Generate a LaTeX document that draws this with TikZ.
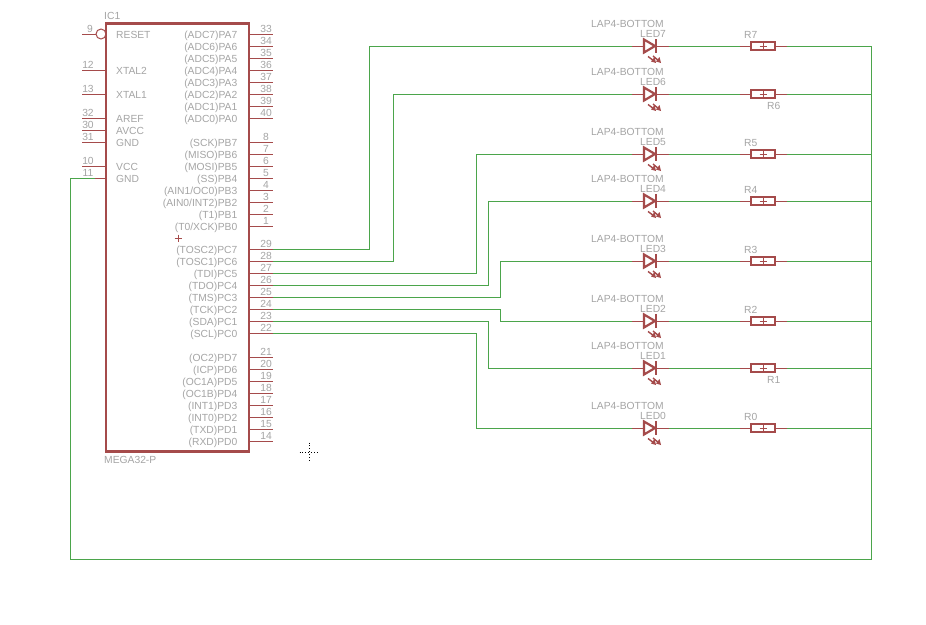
\documentclass[tikz,border=0pt]{standalone}
\usepackage{fontspec}
\setmainfont{Liberation Sans}
\definecolor{sym}{RGB}{165, 75, 75}
\definecolor{net}{RGB}{75, 165, 75}
\definecolor{lbl}{RGB}{165, 165, 165}
\tikzset{
  wire/.style={color=net, line width=0.9pt},
  pinline/.style={color=sym, line width=0.9pt},
  body/.style={color=sym, line width=2.2pt},
  txt/.style={color=lbl, inner sep=0pt, font=\fontsize{10.3}{11}\selectfont},
  pinname/.style={txt, anchor=base east},
  pinlabel/.style={txt, anchor=base west},
  pinnum/.style={txt, anchor=base},
  freetxt/.style={txt, anchor=base west},
}
% right hand pin: y, number, text
\newcommand{\rpin}[3]{
  \coordinate (p#2) at (273, #1);
  \draw[pinline] (249, #1) -- (p#2);
  \node[pinnum] (n#2) at (266, #1-1.3) {#2};
  \node[pinname] (t#2) at (237.5, #1+4) {#3};
}
% left hand pin: y, number, text
\newcommand{\lpin}[3]{
  \coordinate (p#2) at (82, #1);
  \draw[pinline] (p#2) -- (105, #1);
  \node[pinnum] (n#2) at (88, #1-1.3) {#2};
  \node[pinlabel] (t#2) at (116, #1+4) {#3};
}
% led: index, y
\newcommand{\ledpart}[2]{
  \coordinate (led#1a) at (632, #2);
  \coordinate (led#1b) at (669, #2);
  \draw[pinline] (led#1a) -- (led#1b);
  \draw[body, fill=white, line join=miter] (644, #2-6.5) -- (655, #2) -- (644, #2+6.5) -- cycle;
  \draw[body] (656, #2-7) -- (656, #2+7);
  \draw[color=sym, line width=1.4pt] (648, #2+10.5) -- (654, #2+15);
  \draw[color=sym, line width=1.4pt] (653, #2+10) -- (659, #2+15);
  \fill[sym] (656, #2+17) -- (651, #2+15.5) -- (654.5, #2+11) -- cycle;
  \fill[sym] (661, #2+17) -- (656, #2+15.5) -- (659.5, #2+11) -- cycle;
  \node[freetxt] (lap#1) at (591, #2-18.3) {LAP4-BOTTOM};
  \node[freetxt] (led#1) at (640, #2-8.3) {LED#1};
}
% resistor: index, y, label x, label y offset
\newcommand{\respart}[4]{
  \coordinate (r#1a) at (740, #2);
  \coordinate (r#1b) at (787, #2);
  \coordinate (rail#1) at (871, #2);
  \draw[pinline] (r#1a) -- (r#1b);
  \draw[body, fill=white] (751, #2-4) rectangle (775, #2+4);
  \draw[color=sym, line width=0.9pt] (759.5, #2) -- (767, #2) (763.5, #2-4) -- (763.5, #2+4);
  \node[freetxt] (r#1) at (#3, #2+#4) {R#1};
  \draw[wire] (led#1b) -- (r#1a);
  \draw[wire] (r#1b) -- (rail#1);
}
\begin{document}
\begin{tikzpicture}[x=1pt, y=-1pt]
  \useasboundingbox (0, 0) rectangle (926, 624);
  \fill[white] (0, 0) rectangle (926, 624);

  % the chip
  \draw[body, fill=white] (106, 23.5) rectangle (249, 451.5);
  \node[freetxt] (ic) at (104, 19) {IC1};
  \node[freetxt] (part) at (104, 463.7) {MEGA32-P};
  \draw[color=sym, line width=0.9pt] (174.5, 238) -- (181.5, 238) (178, 234.5) -- (178, 241.5);

  % left pins
  \coordinate (p9) at (82, 34);
  \draw[pinline] (p9) -- (96, 34);
  \draw[color=sym, line width=1pt, fill=white] (101, 34) circle (5);
  \draw[body] (106, 28) -- (106, 40);
  \node[pinnum] (n9) at (90, 32.7) {9};
  \node[pinlabel] (t9) at (116, 38) {RESET};
  \lpin{70}{12}{XTAL2}
  \lpin{94}{13}{XTAL1}
  \lpin{118}{32}{AREF}
  \lpin{130}{30}{AVCC}
  \lpin{142}{31}{GND}
  \lpin{166}{10}{VCC}
  \lpin{178}{11}{GND}

  % port a
  \rpin{34}{33}{(ADC7)PA7}
  \rpin{46}{34}{(ADC6)PA6}
  \rpin{58}{35}{(ADC5)PA5}
  \rpin{70}{36}{(ADC4)PA4}
  \rpin{82}{37}{(ADC3)PA3}
  \rpin{94}{38}{(ADC2)PA2}
  \rpin{106}{39}{(ADC1)PA1}
  \rpin{118}{40}{(ADC0)PA0}
  % port b
  \rpin{142}{8}{(SCK)PB7}
  \rpin{154}{7}{(MISO)PB6}
  \rpin{166}{6}{(MOSI)PB5}
  \rpin{178}{5}{(SS)PB4}
  \rpin{190}{4}{(AIN1/OC0)PB3}
  \rpin{202}{3}{(AIN0/INT2)PB2}
  \rpin{214}{2}{(T1)PB1}
  \rpin{226}{1}{(T0/XCK)PB0}
  % port c
  \rpin{249}{29}{(TOSC2)PC7}
  \rpin{261}{28}{(TOSC1)PC6}
  \rpin{273}{27}{(TDI)PC5}
  \rpin{285}{26}{(TDO)PC4}
  \rpin{297}{25}{(TMS)PC3}
  \rpin{309}{24}{(TCK)PC2}
  \rpin{321}{23}{(SDA)PC1}
  \rpin{333}{22}{(SCL)PC0}
  % port d
  \rpin{357}{21}{(OC2)PD7}
  \rpin{369}{20}{(ICP)PD6}
  \rpin{381}{19}{(OC1A)PD5}
  \rpin{393}{18}{(OC1B)PD4}
  \rpin{405}{17}{(INT1)PD3}
  \rpin{417}{16}{(INT0)PD2}
  \rpin{429}{15}{(TXD)PD1}
  \rpin{441}{14}{(RXD)PD0}

  % led row
  \ledpart{7}{46}
  \ledpart{6}{94}
  \ledpart{5}{154}
  \ledpart{4}{201}
  \ledpart{3}{261}
  \ledpart{2}{321}
  \ledpart{1}{368}
  \ledpart{0}{428}

  % resistor row
  \respart{7}{46}{744}{-7.7}
  \respart{6}{94}{767}{15}
  \respart{5}{154}{744}{-7.7}
  \respart{4}{201}{744}{-7.7}
  \respart{3}{261}{744}{-7.7}
  \respart{2}{321}{744}{-7.7}
  \respart{1}{368}{767}{15}
  \respart{0}{428}{744}{-7.7}

  % nets
  \draw[wire] (p29) -- ++(96.5, 0) |- (led7a);
  \draw[wire] (p28) -- ++(120.5, 0) |- (led6a);
  \draw[wire] (p27) -- ++(203.5, 0) |- (led5a);
  \draw[wire] (p26) -- ++(215.5, 0) |- (led4a);
  \draw[wire] (p25) -- ++(227.5, 0) |- (led3a);
  \draw[wire] (p24) -- ++(227.5, 0) |- (led2a);
  \draw[wire] (p23) -- ++(215.5, 0) |- (led1a);
  \draw[wire] (p22) -- ++(203.5, 0) |- (led0a);

  % the return line
  \coordinate (g11) at (95, 178);
  \draw[wire] (rail7) -- (871, 559) -- (70.5, 559) |- (g11);

  % cursor
  \coordinate (cross) at (309.5, 452.5);
  \draw[black, line width=0.9pt, dotted] (299.5, 452.5) -- (319.5, 452.5) (cross) ++(0, -10) -- ++(0, 20);
\end{tikzpicture}
\end{document}
